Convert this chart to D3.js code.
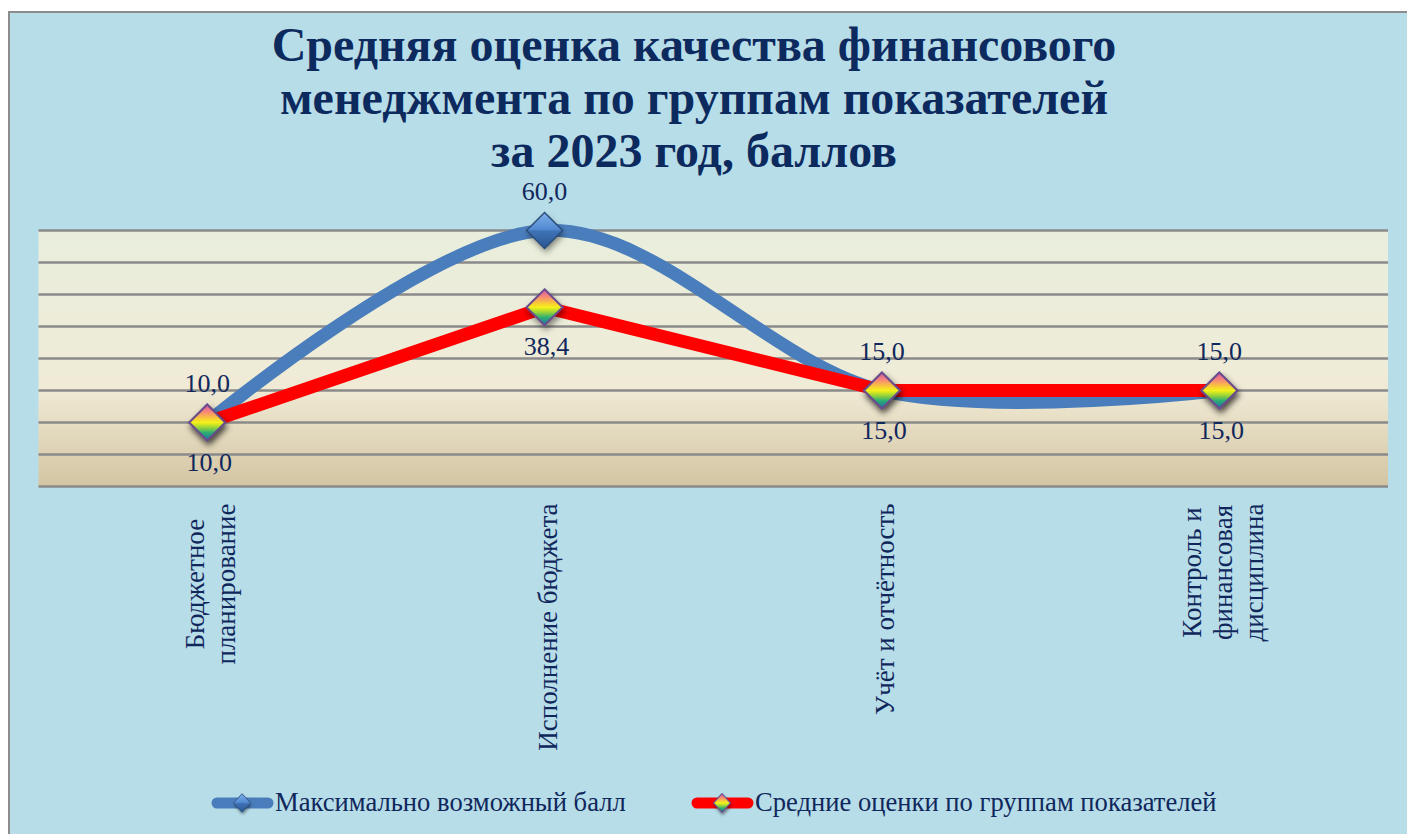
<!DOCTYPE html>
<html><head><meta charset="utf-8">
<script src="https://cdn.jsdelivr.net/npm/d3@7"></script>
<style>
html,body{margin:0;padding:0;background:#fff;}
svg{display:block;}
text{font-family:"Liberation Serif","Times New Roman",serif;}
</style></head>
<body>
<script>
// ---- data ----
const titleLines = ["Средняя оценка качества финансового","менеджмента по группам показателей","за 2023 год, баллов"];
const categories = [["Бюджетное","планирование"],["Исполнение бюджета"],["Учёт и отчётность"],["Контроль и","финансовая","дисциплина"]];
const seriesNames = ["Максимально возможный балл","Средние оценки по группам показателей"];
const maxValues = [10.0, 60.0, 15.0, 15.0];
const avgValues = [10.0, 38.4, 15.0, 15.0];
const gridValues = [0, 5, 10, 15, 24, 33, 42, 51, 60];
const yBreaks = [0, 15, 60];

// ---- layout ----
const W = 1407, H = 834;
const plot = {x0: 38.5, x1: 1388, y0: 230.5, y1: 486.5};
const navy = "#10275c";
const svg = d3.select("body").append("svg").attr("width", W).attr("height", H);
const defs = svg.append("defs");

const pg = defs.append("linearGradient").attr("id","plotBg").attr("x1",0).attr("y1",0).attr("x2",0).attr("y2",1);
[[0,"#e9eedc"],[0.5,"#eeecd8"],[0.62,"#f0ead5"],[0.8,"#e2d8bc"],[1,"#d3c5a2"]].forEach(s=>pg.append("stop").attr("offset",s[0]).attr("stop-color",s[1]));

const rg = defs.append("linearGradient").attr("id","rainbow").attr("x1",0).attr("y1",0).attr("x2",0).attr("y2",1);
[[0,"#d45aa8"],[0.2,"#f6857a"],[0.38,"#f8c83a"],[0.5,"#f4f21a"],[0.62,"#a8d830"],[0.78,"#2eae72"],[1,"#1c6fa8"]].forEach(s=>rg.append("stop").attr("offset",s[0]).attr("stop-color",s[1]));

const bgTop = defs.append("linearGradient").attr("id","blueTop").attr("x1",0).attr("y1",0).attr("x2",0).attr("y2",1);
[[0,"#7fb0ea"],[1,"#4f86cf"]].forEach(s=>bgTop.append("stop").attr("offset",s[0]).attr("stop-color",s[1]));
const bgBot = defs.append("linearGradient").attr("id","blueBot").attr("x1",0).attr("y1",0).attr("x2",0).attr("y2",1);
[[0,"#3f74b8"],[1,"#2a548e"]].forEach(s=>bgBot.append("stop").attr("offset",s[0]).attr("stop-color",s[1]));

const sh = defs.append("filter").attr("id","shadow").attr("x","-50%").attr("y","-50%").attr("width","200%").attr("height","200%");
sh.append("feDropShadow").attr("dx",1.5).attr("dy",4).attr("stdDeviation",3).attr("flood-color","#000").attr("flood-opacity",0.45);

// background frame
svg.append("rect").attr("x",9).attr("y",12).attr("width",W+20).attr("height",H+20)
  .attr("fill","#b7dde8").attr("stroke","#8c8c8c").attr("stroke-width",2);

// scales
const x = d3.scalePoint().domain(d3.range(categories.length)).range([plot.x0, plot.x1]).padding(0.5);
const y = d3.scaleLinear().domain(yBreaks).range([plot.y1, plot.y1 - (plot.y1-plot.y0)*3/8, plot.y0]);

// plot area
svg.append("rect").attr("x",plot.x0).attr("y",plot.y0).attr("width",plot.x1-plot.x0).attr("height",plot.y1-plot.y0).attr("fill","url(#plotBg)");
svg.append("g").selectAll("line").data(gridValues).join("line")
  .attr("x1",plot.x0).attr("x2",plot.x1).attr("y1",d=>y(d)).attr("y2",d=>y(d))
  .attr("stroke","#8a8a8a").attr("stroke-width",2.5);

// title
svg.append("text").attr("text-anchor","middle").attr("font-weight","bold").attr("font-size",48).attr("fill","#0c2a5e")
  .selectAll("tspan").data(titleLines).join("tspan").attr("x",694).attr("y",(d,i)=>61+i*53).text(d=>d);

// lines
const ptsMax = maxValues.map((v,i)=>[x(i), y(v)]);
const ptsAvg = avgValues.map((v,i)=>[x(i), y(v)]);
svg.append("path").attr("d", d3.line().curve(d3.curveCardinal.tension(0))(ptsMax))
  .attr("fill","none").attr("stroke","#4a7dbb").attr("stroke-width",13);
svg.append("path").attr("d", d3.line()(ptsAvg))
  .attr("fill","none").attr("stroke","#ff0000").attr("stroke-width",13).attr("stroke-linejoin","round");

// markers
const r = 18;
const diamond = rr => `M0,${-rr}L${rr},0L0,${rr}L${-rr},0Z`;
const topHalf = rr => `M0,${-rr}L${rr},0L${-rr},0Z`;
const botHalf = rr => `M${-rr},0L${rr},0L0,${rr}Z`;
function blueMarker(g, rr){
  g.append("path").attr("d",diamond(rr)).attr("fill","#3f74b8").attr("filter","url(#shadow)");
  g.append("path").attr("d",topHalf(rr)).attr("fill","url(#blueTop)");
  g.append("path").attr("d",botHalf(rr)).attr("fill","url(#blueBot)");
  g.append("path").attr("d",diamond(rr)).attr("fill","none").attr("stroke","#2b4d7c").attr("stroke-width",1.5);
}
function rainbowMarker(g, rr){
  g.append("path").attr("d",diamond(rr)).attr("fill","url(#rainbow)").attr("stroke","#6a4b8c").attr("stroke-width",2).attr("filter","url(#shadow)");
}
svg.append("g").selectAll("g").data(ptsMax).join("g").attr("transform",d=>`translate(${d[0]},${d[1]})`).each(function(){blueMarker(d3.select(this), r);});
svg.append("g").selectAll("g").data(ptsAvg).join("g").attr("transform",d=>`translate(${d[0]},${d[1]})`).each(function(){rainbowMarker(d3.select(this), r);});

// value labels
const fmt = v => d3.format(".1f")(v).replace(".", ",");
svg.append("g").selectAll("text").data(maxValues).join("text")
  .attr("x",(d,i)=>x(i)).attr("y",d=>y(d)-31).attr("text-anchor","middle").attr("font-size",26).attr("fill",navy).text(fmt);
svg.append("g").selectAll("text").data(avgValues).join("text")
  .attr("x",(d,i)=>x(i)+2).attr("y",d=>y(d)+48).attr("text-anchor","middle").attr("font-size",26).attr("fill",navy).text(fmt);

// category labels (rotated)
const catG = svg.append("g");
categories.forEach((lines,i)=>{
  const lh = 31;
  const t = catG.append("text").attr("font-size",27).attr("fill",navy).attr("text-anchor","middle");
  const tsp = t.selectAll("tspan").data(lines).join("tspan").text(d=>d);
  let maxLen = 0;
  tsp.each(function(){ maxLen = Math.max(maxLen, this.getComputedTextLength()); });
  const cy = plot.y1 + 17 + maxLen/2;
  const cx = x(i) + 3;
  t.attr("transform",`translate(${cx},${cy}) rotate(-90)`);
  tsp.attr("x",0).attr("y",(d,j)=>(j-(lines.length-1)/2)*lh).attr("dy","0.35em");
});

// legend
const legend = [{name:seriesNames[0], color:"#4a7dbb", kind:"blue", x0:212},{name:seriesNames[1], color:"#ff0000", kind:"rainbow", x0:692}];
const lg = svg.append("g").selectAll("g").data(legend).join("g").attr("transform",d=>`translate(${d.x0},803)`);
lg.append("line").attr("x1",5).attr("x2",56).attr("y1",0).attr("y2",0).attr("stroke",d=>d.color).attr("stroke-width",11).attr("stroke-linecap","round");
lg.each(function(d){
  const g = d3.select(this).append("g").attr("transform","translate(30,0) scale(0.5,0.55)");
  if(d.kind==="blue") blueMarker(g, 17); else rainbowMarker(g, 17);
});
lg.append("text").attr("x",63).attr("y",8).attr("font-size",26.6).attr("fill",navy).text(d=>d.name);
</script>
</body></html>
